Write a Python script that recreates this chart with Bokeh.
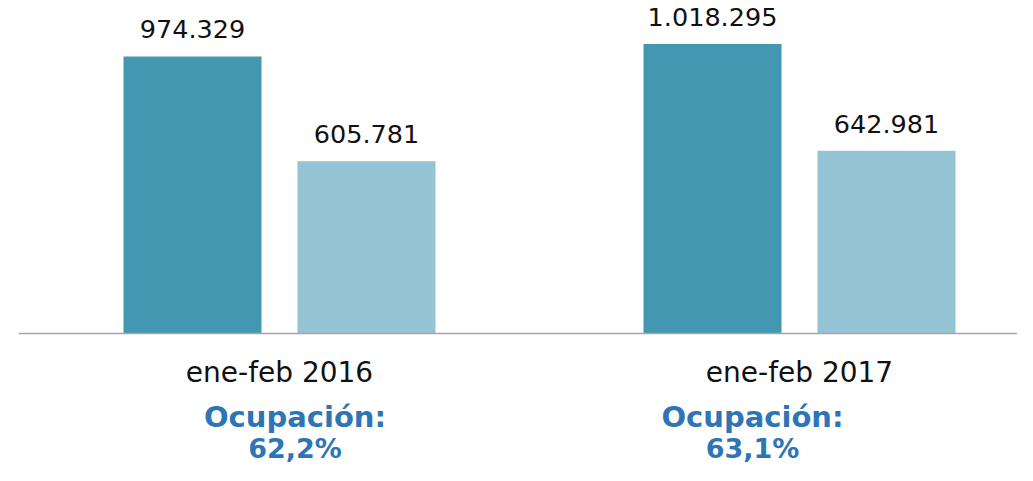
from bokeh.plotting import figure
from bokeh.models import ColumnDataSource, Range1d, Span
from bokeh.core.properties import value
from bokeh.embed import file_html
from bokeh.resources import INLINE

# ---- data ----
periods = ["ene-feb 2016", "ene-feb 2017"]
series_a = [974329, 1018295]   # dark bars
series_b = [605781, 642981]    # light bars
occupancy = ["62,2%", "63,1%"]
occ_title = "Ocupación:"

def fmt(v):
    return f"{v:,}".replace(",", ".")

# ---- layout ----
W, H = 1017, 465
left_pad = 18
px_per_group = 520.0
center0_px = 279.0
units_per_px = 3517.0
base_px = 333.0

x_start = -(center0_px - left_pad) / px_per_group
x_end = x_start + (W - left_pad) / px_per_group
y_end = base_px * units_per_px
y_start = -(H - base_px) * units_per_px

bar_w = 138 / px_per_group
off = 87 / px_per_group
occ_shift = [15.5 / px_per_group, -47 / px_per_group]

idx = list(range(len(periods)))
src_a = ColumnDataSource(dict(x=[i - off for i in idx], top=series_a,
                              lab=[fmt(v) for v in series_a]))
src_b = ColumnDataSource(dict(x=[i + off for i in idx], top=series_b,
                              lab=[fmt(v) for v in series_b]))
src_p = ColumnDataSource(dict(x=idx, y=[0] * len(idx), lab=periods))
src_o = ColumnDataSource(dict(x=[i + s for i, s in zip(idx, occ_shift)],
                              y=[0] * len(idx), occ=occupancy,
                              title=[occ_title] * len(idx)))

p = figure(width=W, height=H, output_backend="svg", toolbar_location=None,
           x_range=Range1d(x_start, x_end), y_range=Range1d(y_start, y_end),
           min_border=0, min_border_left=left_pad)
p.axis.visible = False
p.grid.visible = False
p.outline_line_color = None
p.background_fill_color = "white"

p.vbar(x="x", top="top", bottom=0, width=bar_w, source=src_a,
       fill_color="#4397B0", line_color=None)
p.vbar(x="x", top="top", bottom=0, width=bar_w, source=src_b,
       fill_color="#94C3D4", line_color=None)

p.add_layout(Span(location=0, dimension="width", line_color="#A6A6A6",
                  line_width=1.6))

font = value("DejaVu Sans")
for s in (src_a, src_b):
    p.text(x="x", y="top", text="lab", source=s, text_font=font,
           text_font_size="25.5px", text_color="#111111", text_align="center",
           text_baseline="alphabetic", y_offset=-27)

p.text(x="x", y="y", text="lab", source=src_p, text_font=font,
       text_font_size="28px", text_color="#111111", text_align="center",
       text_baseline="alphabetic", y_offset=39)

p.text(x="x", y="y", text="title", source=src_o, text_font=font,
       text_font_size="29px", text_font_style="bold", text_color="#2E75B6",
       text_align="center", text_baseline="alphabetic", y_offset=83)
p.text(x="x", y="y", text="occ", source=src_o, text_font=font,
       text_font_size="27px", text_font_style="bold", text_color="#2E75B6",
       text_align="center", text_baseline="alphabetic", y_offset=115)

open("out.html", "w").write(file_html(p, INLINE))
